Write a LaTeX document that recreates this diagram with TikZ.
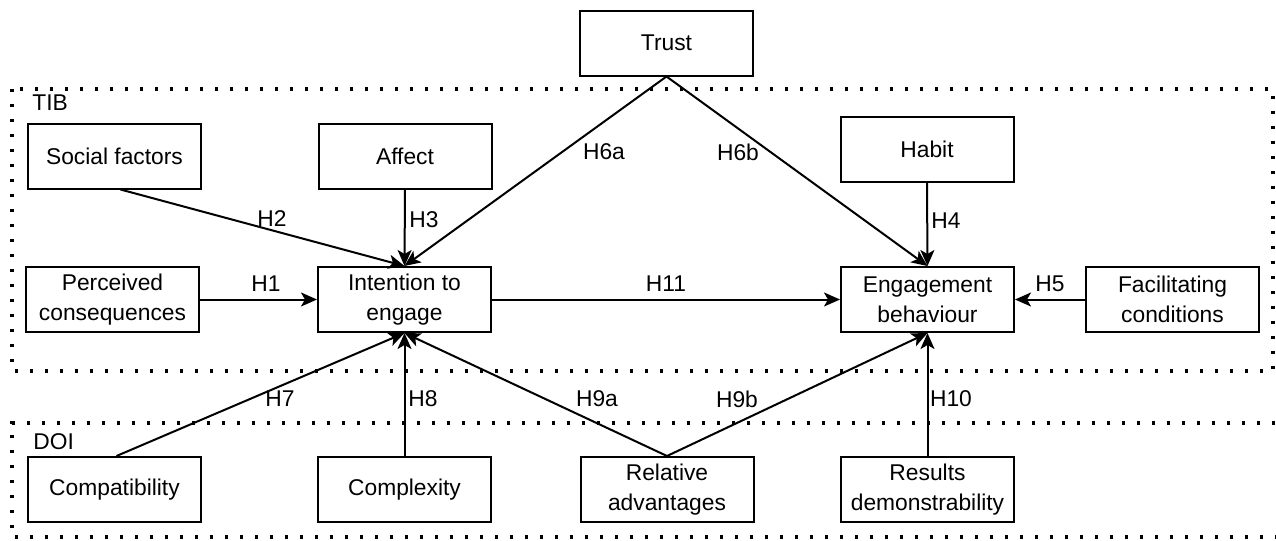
\documentclass[tikz,border=0pt]{standalone}
\usepackage{fontspec}
\setmainfont{Liberation Sans}
\usetikzlibrary{arrows.meta}
\tikzset{
  box/.style={draw=black, line width=1pt, minimum width=86.5pt, minimum height=32.5pt, align=center, inner sep=1pt, font=\fontsize{11.4}{15}\selectfont},
  lbl/.style={font=\fontsize{11.4}{14}\selectfont, inner sep=0pt},
  arr/.style={line width=1pt, -{Stealth[length=8pt, width=7pt, inset=2pt]}},
  dotbox/.style={line width=1.7pt, dash pattern=on 1.7pt off 5.8pt}
}
\begin{document}
\begin{tikzpicture}[x=0.5pt,y=-0.5pt]
\useasboundingbox (0,0) rectangle (1276,541);
% group frames
\draw[dotbox] (12,89) rectangle (1273,371);
\draw[dotbox] (1290,423) -- (12,423) -- (12,537) -- (1290,537);
\node[lbl, anchor=west] (tib) at (32,103) {TIB};
\node[lbl, anchor=west] (doi) at (33,442) {DOI};
% nodes
\node[box] (trust) at (666.5,43) {Trust};
\node[box] (social) at (114.5,156) {Social factors};
\node[box] (affect) at (405,156) {Affect};
\node[box] (habit) at (927,149) {Habit};
\node[box] (perc) at (112.5,299.5) {Perceived\\consequences};
\node[box] (intent) at (404.5,299.5) {Intention to\\engage};
\node[box] (engage) at (927.5,299.5) {Engagement\\behaviour};
\node[box] (facil) at (1172.5,299.5) {Facilitating\\conditions};
\node[box] (compat) at (114.5,489.5) {Compatibility};
\node[box] (complex) at (404.5,489.5) {Complexity};
\node[box] (relat) at (667,489.5) {Relative\\advantages};
\node[box] (results) at (927.5,489.5) {Results\\demonstrability};
% connectors
\draw[arr] ([xshift=3pt]social.south) -- (intent.north);
\draw[arr] (affect.south) -- (intent.north);
\draw[arr] (trust.south) -- (intent.north);
\draw[arr] (trust.south) -- (engage.north);
\draw[arr] (habit.south) -- (engage.north);
\draw[arr] (perc.east) -- (intent.west);
\draw[arr] (intent.east) -- (engage.west);
\draw[arr] (facil.west) -- (engage.east);
\draw[arr] ([xshift=1pt]compat.north) -- (intent.south);
\draw[arr] (complex.north) -- (intent.south);
\draw[arr] (relat.north) -- (intent.south);
\draw[arr] (relat.north) -- (engage.south);
\draw[arr] (results.north) -- (engage.south);
% labels
\node[lbl] (h2) at (272,219) {H2};
\node[lbl] (h3) at (424,220) {H3};
\node[lbl] (h6a) at (604,152) {H6a};
\node[lbl] (h6b) at (738,152) {H6b};
\node[lbl] (h4) at (946,221) {H4};
\node[lbl] (h1) at (266,284) {H1};
\node[lbl] (h11) at (666,284) {H11};
\node[lbl] (h5) at (1050,284) {H5};
\node[lbl] (h7) at (280,399) {H7};
\node[lbl] (h8) at (423,399) {H8};
\node[lbl] (h9a) at (597,399) {H9a};
\node[lbl] (h9b) at (737,399) {H9b};
\node[lbl] (h10) at (951,399) {H10};
\end{tikzpicture}
\end{document}
